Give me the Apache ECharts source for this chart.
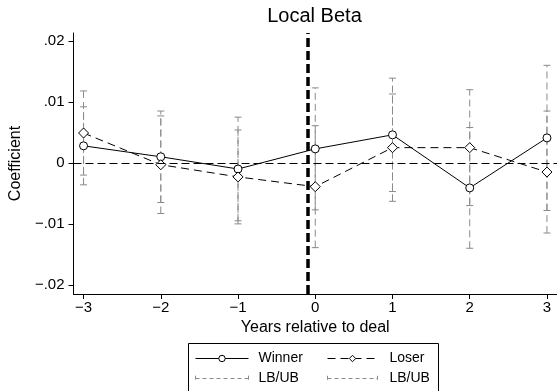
<!DOCTYPE html>
<html>
<head>
<meta charset="utf-8">
<script src="https://cdn.jsdelivr.net/npm/echarts@6/dist/echarts.min.js"></script>
<style>html,body{margin:0;padding:0;background:#fff;}#chart{width:557px;height:391px;}</style>
</head>
<body>
<div id="chart"></div>
<script>
// ---- data ----
const years = [-3, -2, -1, 0, 1, 2, 3];
const winner = [0.0028, 0.0010, -0.0010, 0.0023, 0.0046, -0.0041, 0.0041];
const loser = [0.0049, -0.0003, -0.0023, -0.0039, 0.0025, 0.0025, -0.0015];
const winnerLB = [-0.0036, -0.0065, -0.0095, -0.0077, -0.0047, -0.0140, -0.0078];
const winnerUB = [0.0092, 0.0085, 0.0075, 0.0123, 0.0139, 0.0058, 0.0160];
const loserLB = [-0.0020, -0.0083, -0.0100, -0.0139, -0.0063, -0.0070, -0.0115];
const loserUB = [0.0118, 0.0077, 0.0054, 0.0061, 0.0113, 0.0120, 0.0085];
const yTicks = [-0.02, -0.01, 0, 0.01, 0.02];
const xTicks = [-3, -2, -1, 0, 1, 2, 3];
const dealLine = -0.1;
const zeroLine = 0;

const FONT = 'Liberation Sans, Arial, Helvetica, sans-serif';
const GRAY = '#8a8a8a';

function fmtY(v) {
  if (Math.abs(v) < 1e-12) return '0';
  const s = Math.abs(v).toFixed(2).replace(/^0/, '');
  return (v < 0 ? '\u2212' : '') + s;
}
function fmtX(v) {
  return (v < 0 ? '\u2212' : '') + Math.abs(v);
}

function ciRender(color) {
  return function (params, api) {
    const x = api.value(0), lo = api.value(1), hi = api.value(2);
    const a = api.coord([x, lo]);
    const b = api.coord([x, hi]);
    const cw = 3.5;
    return {
      type: 'group',
      children: [
        { type: 'line', shape: { x1: a[0], y1: a[1], x2: b[0], y2: b[1] },
          style: { stroke: color, lineWidth: 1, lineDash: [7, 4] } },
        { type: 'line', shape: { x1: a[0] - cw, y1: a[1], x2: a[0] + cw, y2: a[1] },
          style: { stroke: color, lineWidth: 1 } },
        { type: 'line', shape: { x1: b[0] - cw, y1: b[1], x2: b[0] + cw, y2: b[1] },
          style: { stroke: color, lineWidth: 1 } }
      ]
    };
  };
}

const winnerCI = years.map((y, i) => [y, winnerLB[i], winnerUB[i]]);
const loserCI = years.map((y, i) => [y, loserLB[i], loserUB[i]]);

const ciIcon = 'path://M0,1 L0,7 M0,4 L56,4 M56,1 L56,7';
const ciLegendStyle = { color: 'transparent', borderColor: GRAY, borderWidth: 1, borderType: [4, 3] };

const legendCommon = {
  orient: 'vertical', top: 351, padding: 0, itemGap: 5, itemHeight: 8,
  lineStyle: { width: 1 },
  itemStyle: { borderWidth: 1 },
  formatter: n => n.indexOf('LB/UB') >= 0 ? 'LB/UB' : n
};

const chart = echarts.init(document.getElementById('chart'), null, { renderer: 'canvas' });
chart.setOption({
  animation: false,
  backgroundColor: '#fff',
  textStyle: { fontFamily: FONT },
  title: {
    text: 'Local Beta',
    left: 314.5, top: 6, textAlign: 'center', padding: 0,
    textStyle: { fontFamily: FONT, fontSize: 20, fontWeight: 'normal', color: '#000' }
  },
  grid: { left: 72, right: 0, top: 33, bottom: 97 },
  xAxis: {
    type: 'value', min: -3.13, max: 3.13,
    name: 'Years relative to deal', nameLocation: 'middle', nameGap: 24,
    nameTextStyle: { fontFamily: FONT, fontSize: 16, color: '#000' },
    axisLine: { show: true, onZero: false, lineStyle: { color: '#000', width: 1 } },
    axisTick: { show: true, length: 5, lineStyle: { color: '#000' }, customValues: xTicks },
    axisLabel: { show: true, margin: 6, fontFamily: FONT, fontSize: 15, color: '#000',
      customValues: xTicks, formatter: fmtX },
    splitLine: { show: false }
  },
  yAxis: {
    type: 'value', min: -0.0215, max: 0.0213,
    name: 'Coefficient', nameLocation: 'middle', nameGap: 42,
    nameTextStyle: { fontFamily: FONT, fontSize: 16, color: '#000' },
    axisLine: { show: true, onZero: false, lineStyle: { color: '#000', width: 1 } },
    axisTick: { show: true, length: 5, lineStyle: { color: '#000' }, customValues: yTicks },
    axisLabel: { show: true, margin: 9, fontFamily: FONT, fontSize: 15, color: '#000',
      customValues: yTicks, formatter: fmtY },
    splitLine: { show: false }
  },
  legend: [
    Object.assign({}, legendCommon, {
      left: 195, itemWidth: 53,
      textStyle: { fontFamily: FONT, fontSize: 14, color: '#000', lineHeight: 15, padding: [0, 0, 0, 5] },
      data: [
        { name: 'Winner' },
        { name: 'Winner LB/UB', icon: ciIcon, itemStyle: ciLegendStyle }
      ]
    }),
    Object.assign({}, legendCommon, {
      left: 327, itemWidth: 50,
      textStyle: { fontFamily: FONT, fontSize: 14, color: '#000', lineHeight: 15, padding: [0, 0, 0, 7] },
      data: [
        { name: 'Loser' },
        { name: 'Loser LB/UB', icon: ciIcon, itemStyle: ciLegendStyle }
      ]
    })
  ],
  graphic: [
    { type: 'rect', shape: { x: 188.5, y: 343.5, width: 250, height: 60 },
      style: { fill: 'none', stroke: '#000', lineWidth: 1 }, silent: true, z: 0 }
  ],
  series: [
    {
      name: 'Winner LB/UB', type: 'custom', renderItem: ciRender(GRAY),
      encode: { x: 0, y: [1, 2] }, data: winnerCI, z: 1, silent: true,
      itemStyle: { color: GRAY }
    },
    {
      name: 'Loser LB/UB', type: 'custom', renderItem: ciRender(GRAY),
      encode: { x: 0, y: [1, 2] }, data: loserCI, z: 1, silent: true,
      itemStyle: { color: GRAY }
    },
    {
      name: 'Winner', type: 'line', data: years.map((y, i) => [y, winner[i]]),
      symbol: 'circle', symbolSize: 8, z: 3,
      lineStyle: { color: '#000', width: 1, type: 'solid' },
      itemStyle: { color: '#fff', borderColor: '#000', borderWidth: 1 },
      markLine: {
        silent: true, symbol: 'none', label: { show: false }, animation: false,
        data: [
          { yAxis: zeroLine, lineStyle: { color: '#000', width: 1, type: [8, 4] } },
          { xAxis: dealLine, lineStyle: { color: '#000', width: 3.5, type: [9, 4] } }
        ]
      }
    },
    {
      name: 'Loser', type: 'line', data: years.map((y, i) => [y, loser[i]]),
      symbol: 'diamond', symbolSize: 10, z: 3,
      lineStyle: { color: '#000', width: 1, type: [8, 5] },
      itemStyle: { color: '#fff', borderColor: '#000', borderWidth: 1 }
    }
  ]
});
</script>
</body>
</html>
